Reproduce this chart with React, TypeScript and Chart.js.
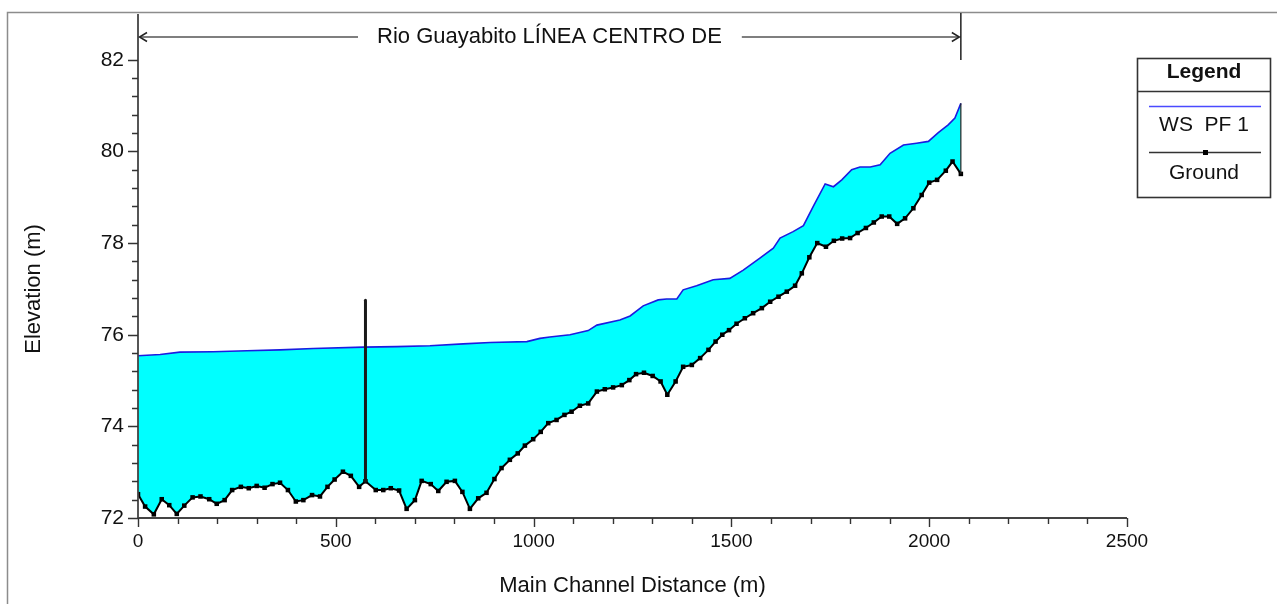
import React, { useEffect, useRef } from "react";
import { Chart, registerables } from "chart.js";

Chart.register(...registerables);

// ---------- data ----------
const groundStations = [
  0, 18, 40, 60, 79, 98, 117, 138, 158, 180, 199, 219, 238, 260, 280, 300, 320, 340, 359, 379,
  399, 418, 440, 460, 479, 497, 518, 538, 559, 575, 601, 620, 639, 660, 679, 700, 717, 740, 759, 780,
  801, 820, 839, 860, 881, 901, 919, 940, 960, 978, 999, 1018, 1037, 1058, 1078, 1096, 1117, 1138, 1160, 1180,
  1201, 1223, 1242, 1259, 1279, 1301, 1321, 1338, 1359, 1378, 1400, 1421, 1442, 1460, 1477, 1494, 1513, 1534, 1555, 1577,
  1598, 1619, 1640, 1661, 1678, 1697, 1717, 1739, 1759, 1780, 1800, 1819, 1840, 1860, 1880, 1899, 1919, 1939, 1960, 1981,
  2000, 2020, 2042, 2059, 2080,
];
const groundElev = [
  72.52, 72.25, 72.08, 72.41, 72.28, 72.09, 72.27, 72.45, 72.47, 72.41, 72.31, 72.39, 72.61, 72.68, 72.65, 72.7, 72.66, 72.74, 72.77, 72.61,
  72.36, 72.39, 72.5, 72.47, 72.68, 72.84, 73.01, 72.92, 72.68, 72.8, 72.61, 72.61, 72.65, 72.6, 72.2, 72.39, 72.81, 72.74, 72.59, 72.79,
  72.81, 72.57, 72.2, 72.43, 72.55, 72.85, 73.09, 73.27, 73.41, 73.58, 73.72, 73.88, 74.07, 74.14, 74.25, 74.32, 74.45, 74.5, 74.76, 74.81,
  74.85, 74.9, 75.01, 75.14, 75.17, 75.1, 74.98, 74.69, 74.98, 75.3, 75.34, 75.49, 75.67, 75.85, 76.0, 76.1, 76.24, 76.36, 76.47, 76.58,
  76.72, 76.83, 76.94, 77.07, 77.34, 77.69, 78.0, 77.92, 78.05, 78.1, 78.11, 78.22, 78.33, 78.45, 78.58, 78.58, 78.42, 78.54, 78.76, 79.05,
  79.32, 79.38, 79.58, 79.78, 79.51,
];
const wsStations = [
  0, 56, 106, 190, 275, 359, 443, 570, 654, 738, 822, 890, 983, 1016, 1041, 1092, 1138, 1160, 1218, 1244,
  1277, 1315, 1336, 1362, 1378, 1412, 1454, 1496, 1530, 1572, 1606, 1623, 1656, 1682, 1707, 1737, 1758, 1779, 1804, 1825,
  1851, 1876, 1901, 1935, 1968, 1998, 2023, 2048, 2065, 2080,
];
const wsElev = [
  75.54, 75.57, 75.62, 75.63, 75.65, 75.67, 75.7, 75.73, 75.74, 75.76, 75.8, 75.83, 75.85, 75.92, 75.95, 76.0, 76.09, 76.21, 76.32, 76.41,
  76.63, 76.76, 76.78, 76.78, 76.98, 77.07, 77.2, 77.23, 77.41, 77.67, 77.89, 78.11, 78.25, 78.38, 78.8, 79.29, 79.23, 79.38, 79.6, 79.66,
  79.66, 79.71, 79.96, 80.14, 80.18, 80.22, 80.41, 80.58, 80.73, 81.05,
];
const pierStations = [575, 575];
const pierElev = [72.8, 76.75];

const xTickValues = [0, 500, 1000, 1500, 2000, 2500];
const yTickValues = [72, 74, 76, 78, 80, 82];
const titleText = "Rio Guayabito LÍNEA CENTRO DE";
const legendTitle = "Legend";
const seriesNames = ["WS  PF 1", "Ground"];
const xAxisTitle = "Main Channel Distance (m)";
const yAxisTitle = "Elevation (m)";

const FONT = '"Liberation Sans", Arial, sans-serif';
const WS_COLOR = "#1c1ce0";
const FILL_COLOR = "#00ffff";

const pts = (xs: number[], ys: number[]) => xs.map((x, i) => ({ x, y: ys[i] }));

const overlayPlugin = {
  id: "overlay",
  beforeDraw(chart: any) {
    const { ctx, width, height } = chart;
    ctx.save();
    ctx.fillStyle = "#ffffff";
    ctx.fillRect(0, 0, width, height);
    ctx.restore();
  },
  afterDraw(chart: any) {
    const { ctx, chartArea } = chart;
    const { left, top, bottom } = chartArea;
    const xs = chart.scales.x;
    const ys = chart.scales.y;
    ctx.save();

    // outer frame
    ctx.strokeStyle = "#8c8c8c";
    ctx.lineWidth = 1.5;
    ctx.beginPath();
    ctx.moveTo(7.5, 604);
    ctx.lineTo(7.5, 12.5);
    ctx.lineTo(1277, 12.5);
    ctx.stroke();

    // axes
    ctx.strokeStyle = "#444";
    ctx.lineWidth = 1.8;
    const x0 = xs.getPixelForValue(0);
    const x2500 = xs.getPixelForValue(2500);
    ctx.beginPath();
    ctx.moveTo(x0, bottom);
    ctx.lineTo(x2500, bottom);
    ctx.moveTo(left, bottom);
    ctx.lineTo(left, top);
    ctx.stroke();

    // x ticks (minor every 100)
    ctx.lineWidth = 1.4;
    ctx.strokeStyle = "#333";
    ctx.beginPath();
    for (let v = 0; v <= 2500; v += 100) {
      const px = Math.round(xs.getPixelForValue(v)) + 0.5;
      const len = v % 500 === 0 ? 9 : 6;
      ctx.moveTo(px, bottom);
      ctx.lineTo(px, bottom + len);
    }
    // y ticks (minor every 0.4)
    for (let k = 0; k <= 25; k++) {
      const v = 72 + k * 0.4;
      const py = Math.round(ys.getPixelForValue(v)) + 0.5;
      const len = k % 5 === 0 ? 10 : 6;
      ctx.moveTo(left, py);
      ctx.lineTo(left - len, py);
    }
    ctx.stroke();

    // title annotation
    const ax0 = xs.getPixelForValue(groundStations[0]);
    const ax1 = xs.getPixelForValue(groundStations[groundStations.length - 1]);
    const ay = 37;
    ctx.font = `22px ${FONT}`;
    const tw = ctx.measureText(titleText).width;
    const cx = (ax0 + ax1) / 2;
    ctx.fillStyle = "#111";
    ctx.textAlign = "center";
    ctx.textBaseline = "middle";
    ctx.fillText(titleText, cx, ay);
    ctx.strokeStyle = "#555";
    ctx.lineWidth = 1.6;
    ctx.beginPath();
    ctx.moveTo(ax0 + 2, ay);
    ctx.lineTo(cx - tw / 2 - 19, ay);
    ctx.moveTo(cx + tw / 2 + 20, ay);
    ctx.lineTo(ax1 - 2, ay);
    ctx.stroke();
    ctx.strokeStyle = "#222";
    ctx.lineWidth = 1.5;
    ctx.beginPath();
    ctx.moveTo(ax0 + 9, ay - 4.5);
    ctx.lineTo(ax0 + 1.5, ay);
    ctx.lineTo(ax0 + 9, ay + 4.5);
    ctx.moveTo(ax1 - 9, ay - 4.5);
    ctx.lineTo(ax1 - 1.5, ay);
    ctx.lineTo(ax1 - 9, ay + 4.5);
    ctx.moveTo(ax1, 13);
    ctx.lineTo(ax1, 60);
    ctx.stroke();

    // axis titles
    ctx.fillStyle = "#111";
    ctx.font = `22px ${FONT}`;
    ctx.textAlign = "center";
    ctx.textBaseline = "middle";
    ctx.fillText(xAxisTitle, (x0 + x2500) / 2, 586);
    ctx.save();
    ctx.translate(34, (ys.getPixelForValue(72) + ys.getPixelForValue(82)) / 2);
    ctx.rotate(-Math.PI / 2);
    ctx.fillText(yAxisTitle, 0, 0);
    ctx.restore();

    // legend
    const lx = 1137.5, ly = 58.5, lw = 133, lh = 139;
    ctx.strokeStyle = "#333";
    ctx.lineWidth = 1.6;
    ctx.strokeRect(lx, ly, lw, lh);
    ctx.beginPath();
    ctx.moveTo(lx, 91.5);
    ctx.lineTo(lx + lw, 91.5);
    ctx.stroke();
    const lcx = lx + lw / 2;
    ctx.font = `bold 21px ${FONT}`;
    ctx.fillStyle = "#111";
    ctx.fillText(legendTitle, lcx, 72);
    ctx.font = `21px ${FONT}`;
    ctx.strokeStyle = "#4a4aff";
    ctx.lineWidth = 1.6;
    ctx.beginPath();
    ctx.moveTo(1149, 106.5);
    ctx.lineTo(1261, 106.5);
    ctx.stroke();
    ctx.fillText(seriesNames[0], lcx, 125);
    ctx.strokeStyle = "#333";
    ctx.lineWidth = 1.5;
    ctx.beginPath();
    ctx.moveTo(1149, 152.5);
    ctx.lineTo(1261, 152.5);
    ctx.stroke();
    ctx.fillStyle = "#000";
    ctx.fillRect(1203, 150, 5, 5);
    ctx.fillStyle = "#111";
    ctx.fillText(seriesNames[1], lcx, 173);

    ctx.restore();
  },
};

export default function App() {
  const canvasRef = useRef<HTMLCanvasElement | null>(null);

  useEffect(() => {
    document.body.style.margin = "0";
    const canvas = canvasRef.current;
    if (!canvas) return;
    const lastG = groundStations.length - 1;
    const lastW = wsStations.length - 1;
    const chart = new Chart(canvas, {
      type: "line",
      data: {
        datasets: [
          {
            label: seriesNames[0],
            data: pts(wsStations, wsElev),
            borderColor: WS_COLOR,
            borderWidth: 1.6,
            pointRadius: 0,
            backgroundColor: FILL_COLOR,
            fill: { target: 1 },
            tension: 0,
            order: 1,
          },
          {
            label: seriesNames[1],
            data: pts(groundStations, groundElev),
            borderColor: "#000",
            borderWidth: 2,
            pointStyle: "rect",
            pointRadius: 3.2,
            pointBackgroundColor: "#000",
            pointBorderWidth: 0,
            fill: false,
            tension: 0,
            order: 2,
          },
          {
            label: "pier",
            data: pts(pierStations, pierElev),
            borderColor: "#1a1a1a",
            borderWidth: 3,
            borderCapStyle: "round",
            pointRadius: 0,
            fill: false,
            order: 0,
          },
          {
            label: "end",
            data: [
              { x: wsStations[lastW], y: wsElev[lastW] },
              { x: groundStations[lastG], y: groundElev[lastG] },
            ],
            borderColor: "#222",
            borderWidth: 1.2,
            pointRadius: 0,
            fill: false,
            order: 0,
          },
        ],
      },
      options: {
        animation: false,
        responsive: false,
        devicePixelRatio: 1,
        layout: { padding: { left: 0, top: 14, right: 150, bottom: 0 } },
        plugins: {
          legend: { display: false },
          tooltip: { enabled: false },
          filler: { propagate: false, drawTime: "beforeDatasetsDraw" },
        },
        scales: {
          x: {
            type: "linear",
            min: 0,
            max: 2500,
            afterBuildTicks: (s: any) => {
              s.ticks = xTickValues.map((v) => ({ value: v }));
            },
            afterFit: (s: any) => {
              s.height = 86;
              s.paddingLeft = 0;
              s.paddingRight = 0;
            },
            ticks: {
              font: { family: FONT, size: 19 },
              color: "#111",
              padding: 12,
              maxRotation: 0,
              autoSkip: false,
              callback: (v: any) => String(v),
            },
            grid: { display: false, drawTicks: false },
            border: { display: false },
          },
          y: {
            type: "linear",
            min: 72,
            max: 83,
            afterBuildTicks: (s: any) => {
              s.ticks = yTickValues.map((v) => ({ value: v }));
            },
            afterFit: (s: any) => {
              s.width = 138;
              s.paddingTop = 0;
              s.paddingBottom = 0;
            },
            ticks: {
              font: { family: FONT, size: 21 },
              color: "#111",
              padding: 14,
              autoSkip: false,
              callback: (v: any) => String(v),
            },
            grid: { display: false, drawTicks: false },
            border: { display: false },
          },
        },
      },
      plugins: [overlayPlugin],
    } as any);
    return () => chart.destroy();
  }, []);

  return <canvas ref={canvasRef} width={1277} height={604} style={{ display: "block" }} />;
}
